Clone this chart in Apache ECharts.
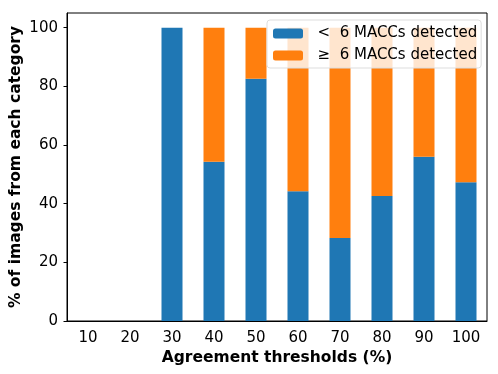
<!DOCTYPE html>
<html>
<head>
<meta charset="utf-8">
<script src="https://cdn.jsdelivr.net/npm/echarts@6/dist/echarts.min.js"></script>
<style>
  html, body { margin: 0; padding: 0; background: #fff; }
  #chart { width: 498px; height: 374px; }
</style>
</head>
<body>
<div id="chart"></div>
<script>
// data
const thresholds = ['10', '20', '30', '40', '50', '60', '70', '80', '90', '100'];
const lessThan6 = [0, 0, 100, 54.3, 82.6, 44.2, 28.3, 42.6, 56, 47.3];
const atLeast6 = [0, 0, 0, 45.7, 17.4, 55.8, 71.7, 57.4, 44, 52.7];
const yTicks = [0, 20, 40, 60, 80, 100];

const font = 'DejaVu Sans';
const myChart = echarts.init(document.getElementById('chart'));

myChart.setOption({
  animation: false,
  textStyle: { fontFamily: font },
  grid: {
    left: 67, right: 11, top: 13, bottom: 53,
    outerBoundsMode: 'none',
    containLabel: false,
    show: true, borderColor: '#000', borderWidth: 1, backgroundColor: 'transparent'
  },
  legend: {
    left: 267, top: 20,
    orient: 'vertical',
    itemWidth: 30, itemHeight: 10, itemGap: 7,
    padding: [6, 4, 5, 6],
    backgroundColor: 'rgba(255,255,255,0.8)',
    borderColor: '#dddddd', borderWidth: 1, borderRadius: 3,
    textStyle: { fontFamily: font, fontSize: 15, color: '#000' },
    formatter: function (name) { return '  ' + name; },
    data: ['<  6 MACCs detected', '≥  6 MACCs detected']
  },
  xAxis: {
    type: 'category',
    data: thresholds,
    name: 'Agreement thresholds (%)',
    nameLocation: 'middle',
    nameGap: 29,
    nameMoveOverlap: false,
    nameTextStyle: { fontFamily: font, fontSize: 15.5, fontWeight: 'bold', color: '#000' },
    axisLine: { lineStyle: { color: '#000', width: 1 } },
    axisTick: { alignWithLabel: true, length: 3.5, lineStyle: { color: '#000' } },
    axisLabel: { fontFamily: font, fontSize: 15, color: '#000', margin: 10 },
    splitLine: { show: false }
  },
  yAxis: {
    type: 'value',
    min: 0, max: 105, interval: 20,
    name: '% of images from each category',
    nameLocation: 'middle',
    nameGap: 43,
    nameMoveOverlap: false,
    nameTextStyle: { fontFamily: font, fontSize: 15.5, fontWeight: 'bold', color: '#000' },
    axisLine: { show: true, lineStyle: { color: '#000', width: 1 } },
    axisTick: { show: true, length: 3.5, lineStyle: { color: '#000' } },
    axisLabel: {
      fontFamily: font, fontSize: 15, color: '#000', margin: 9,
      showMaxLabel: false,
      formatter: function (v) { return yTicks.indexOf(v) >= 0 ? String(v) : ''; }
    },
    splitLine: { show: false }
  },
  series: [
    {
      name: '<  6 MACCs detected',
      type: 'bar',
      stack: 'total',
      barWidth: '50%',
      itemStyle: { color: '#1f77b4' },
      data: lessThan6
    },
    {
      name: '≥  6 MACCs detected',
      type: 'bar',
      stack: 'total',
      barWidth: '50%',
      itemStyle: { color: '#ff7f0e' },
      data: atLeast6
    }
  ]
});
</script>
</body>
</html>
